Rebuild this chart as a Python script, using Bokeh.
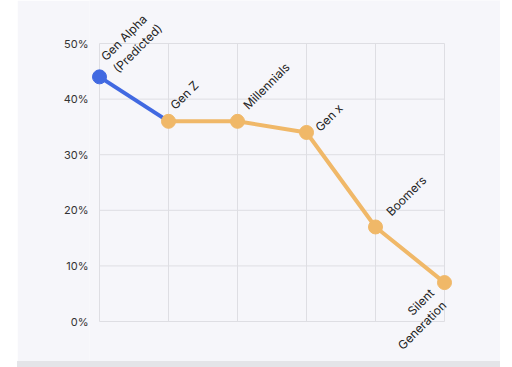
from bokeh.plotting import figure
from bokeh.models import Range1d, FixedTicker, PrintfTickFormatter, Spacer, Label
from bokeh.layouts import row, column
from bokeh.core.properties import value
from bokeh.embed import file_html
from bokeh.resources import INLINE
import math

categories = ["Gen Alpha\n(Predicted)", "Gen Z", "Millennials", "Gen x", "Boomers", "Silent\nGeneration"]
shares = [44, 36, 36, 34, 17, 7]
y_ticks = [0, 10, 20, 30, 40, 50]

xs = list(range(len(categories)))
n = len(categories)

# label placement (screen px: right, up) and alignment per category
label_dx = [21, 9, 13, 16, 18, -18]
label_dy = [1, 9, 9, -2, 8, -3]
label_align = ["left", "left", "left", "left", "left", "right"]
label_base = ["bottom", "bottom", "bottom", "bottom", "bottom", "top"]

BLUE = "#4169E1"
ORANGE = "#F0B868"
BG = "#F6F6FA"
GRID = "#DEDEE3"
FONT = "Inter"

# frame spans the whole canvas so labels are not clipped;
# ranges chosen so 0..50 sits at y 321..43 and categories at x 99..444
px_per_y = 278 / 50
px_per_x = 69
W, H, LEFT = 483, 361, 72
y_top = y_ticks[-1] + 43 / px_per_y
y_bot = y_ticks[0] - (H - 321) / px_per_y
x_left = -(99 - 17 - LEFT) / px_per_x
x_right = x_left + (W - LEFT) / px_per_x

p = figure(width=W, height=H, output_backend="svg", toolbar_location=None,
           x_range=Range1d(x_left, x_right), y_range=Range1d(y_bot, y_top),
           min_border_left=LEFT, min_border_right=0, min_border_top=0, min_border_bottom=0)
p.background_fill_color = BG
p.border_fill_color = BG
p.outline_line_color = None

p.xaxis.visible = False
p.yaxis.ticker = FixedTicker(ticks=y_ticks)
p.yaxis.formatter = PrintfTickFormatter(format="%d%%")
p.yaxis.axis_line_color = None
p.yaxis.major_tick_line_color = None
p.yaxis.minor_tick_line_color = None
p.yaxis.major_tick_out = 0
p.yaxis.major_tick_in = 0
p.yaxis.major_label_standoff = 1
p.yaxis.major_label_text_font = FONT
p.yaxis.major_label_text_font_size = "11px"
p.yaxis.major_label_text_color = "#333333"

p.xgrid.visible = False
p.ygrid.visible = False

# grid drawn over the category span only
p.segment(x0=xs, y0=[y_ticks[0]] * n, x1=xs, y1=[y_ticks[-1]] * n, line_color=GRID, line_width=1)
p.segment(x0=[xs[0]] * len(y_ticks), y0=y_ticks, x1=[xs[-1]] * len(y_ticks), y1=y_ticks,
          line_color=GRID, line_width=1)

# predicted segment (blue) and observed series (orange)
p.line(xs[:2], shares[:2], line_color=BLUE, line_width=4)
p.line(xs[1:], shares[1:], line_color=ORANGE, line_width=4)
p.scatter(xs[1:], shares[1:], size=14, fill_color=ORANGE, line_color=ORANGE)
p.scatter(xs[:1], shares[:1], size=14, fill_color=BLUE, line_color=BLUE)

for i, cat in enumerate(categories):
    p.add_layout(Label(x=xs[i], y=shares[i], text=cat, angle=math.pi / 4,
                       x_offset=label_dx[i], y_offset=label_dy[i],
                       text_align=label_align[i], text_baseline=label_base[i],
                       text_font=FONT, text_font_size="12px", text_color="#222222",
                       text_line_height=1.15))

band = Spacer(width=W, height=6, styles={"background-color": "#E4E4E8"})
layout = column(row(Spacer(width=17, height=H), p), row(Spacer(width=17, height=6), band),
                spacing=0)
open("out.html", "w").write(file_html(layout, INLINE))
